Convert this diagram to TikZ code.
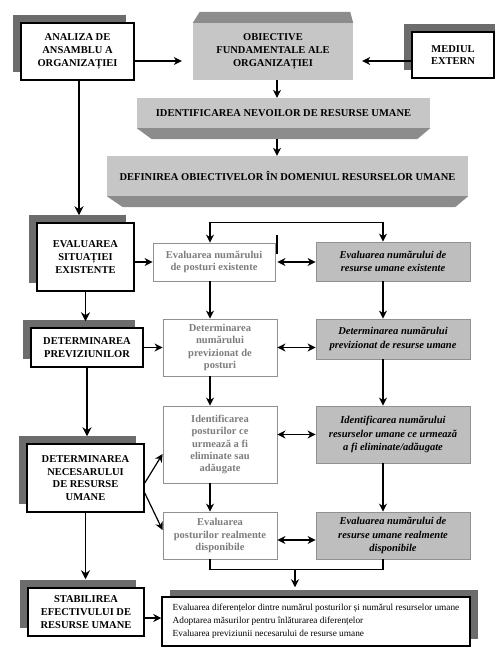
\documentclass[tikz,border=0pt]{standalone}
\usepackage{fontspec}
\setmainfont{Liberation Serif}
\usetikzlibrary{arrows.meta,shadows,calc}
\definecolor{shd}{RGB}{108,108,108}
\definecolor{facec}{RGB}{198,198,198}
\definecolor{darkf}{RGB}{140,140,140}
\definecolor{resf}{RGB}{190,190,190}
\definecolor{midtxt}{RGB}{125,125,125}
\definecolor{midbd}{RGB}{145,145,145}
\tikzset{
 base/.style={align=center, inner sep=0pt},
 lbox/.style={base, draw, line width=1.5pt, fill=white, font=\fontsize{10.5}{12.8}\selectfont\bfseries,
   drop shadow={shadow xshift=-8pt,shadow yshift=8pt,fill=shd,opacity=1}},
 mbox/.style={base, draw=midbd, line width=0.9pt, fill=white, text=midtxt, font=\fontsize{10.5}{12.2}\selectfont\bfseries},
 rbox/.style={base, draw=midbd, line width=0.9pt, fill=resf, font=\fontsize{10.5}{13.2}\selectfont\bfseries\itshape},
 facebox/.style={base, fill=facec, font=\fontsize{10.5}{12.8}\selectfont\bfseries},
 arr/.style={-{Stealth[length=8pt,width=8pt]}, line width=1.2pt},
 larr/.style={-{Stealth[length=9pt,width=9pt]}, line width=1.6pt},
 darr/.style={{Stealth[length=8pt,width=8pt]}-{Stealth[length=8pt,width=8pt]}, line width=1.2pt},
}
\begin{document}
\begin{tikzpicture}[x=1pt,y=-1pt]
\useasboundingbox (0,0) rectangle (495,653);
\coordinate (cm) at (210,0);
\coordinate (cr) at (383,0);
% top row
\node[lbox, minimum width=113pt, minimum height=57pt] (analiza) at (77.5,51.5) {ANALIZA DE\\ANSAMBLU A\\ORGANIZAȚIEI};
\node[facebox, minimum width=160pt, minimum height=57pt] (obj) at (273,51.5) {OBIECTIVE\\FUNDAMENTALE ALE\\ORGANIZAȚIEI};
\fill[darkf] (obj.north west) -- ++(7,-11) -- ($(obj.north east)+(-3,-11)$) -- (obj.north east) -- cycle;
\node[lbox, minimum width=82pt, minimum height=46pt,
  drop shadow={shadow xshift=8pt,shadow yshift=8pt,fill=shd,opacity=1}] (mediul) at (453,55) {MEDIUL\\EXTERN};
% bars
\node[facebox, minimum width=293pt, minimum height=30pt] (ident) at (283.5,113) {IDENTIFICAREA NEVOILOR DE RESURSE UMANE};
\fill[darkf] (ident.south west) -- (ident.south east) -- ++(-13,11) -- ($(ident.south west)+(15,11)$) -- cycle;
\node[facebox, minimum width=361pt, minimum height=40pt] (defin) at (287.5,176) {DEFINIREA OBIECTIVELOR ÎN DOMENIUL RESURSELOR UMANE};
\fill[darkf] (defin.south west) -- (defin.south east) -- ++(-13,11) -- ($(defin.south west)+(16,11)$) -- cycle;
% left column
\node[lbox, minimum width=97pt, minimum height=68pt] (evalsit) at (85.5,257) {EVALUAREA\\SITUAȚIEI\\EXISTENTE};
\node[lbox, minimum width=112pt, minimum height=39pt] (detprev) at (87,347.5) {DETERMINAREA\\PREVIZIUNILOR};
\node[lbox, minimum width=117pt, minimum height=68pt] (detnec) at (85.5,478) {DETERMINAREA\\NECESARULUI\\DE RESURSE\\UMANE};
\node[lbox, minimum width=116pt, minimum height=48pt] (stab) at (86,612) {STABILIREA\\EFECTIVULUI DE\\RESURSE UMANE};
% middle column
\node[mbox, minimum width=122pt, minimum height=38pt] (posturi) at (214,262) {Evaluarea numărului\\de posturi existente};
\node[mbox, minimum width=114pt, minimum height=57pt] (mid2) at (220,347.5) {Determinarea\\numărului\\previzionat de\\posturi};
\node[mbox, minimum width=114pt, minimum height=77pt] (mid3) at (220,444.5) {Identificarea\\posturilor ce\\urmează a fi\\eliminate sau\\adăugate};
\node[mbox, minimum width=114pt, minimum height=47pt] (mid4) at (220,535.5) {Evaluarea\\posturilor realmente\\disponibile};
% right column
\node[rbox, minimum width=154pt, minimum height=39pt] (res1) at (393,261.5) {Evaluarea numărului de\\resurse umane existente};
\node[rbox, minimum width=154pt, minimum height=40pt] (res2) at (393,339) {Determinarea numărului\\previzionat de resurse umane};
\node[rbox, minimum width=154pt, minimum height=57pt] (res3) at (393,434.5) {Identificarea numărului\\resurselor umane ce urmează\\a fi eliminate/adăugate};
\node[rbox, minimum width=154pt, minimum height=47pt] (res4) at (393,535.5) {Evaluarea numărului de\\resurse umane realmente\\disponibile};
% bottom box
\node[base, draw, line width=1.5pt, fill=white, align=left, font=\fontsize{9.3}{12.8}\selectfont,
  minimum width=308pt, minimum height=49pt,
  drop shadow={shadow xshift=8pt,shadow yshift=7pt,fill=shd,opacity=1}] (bottom) at (316,621.5)
  {Evaluarea diferențelor dintre numărul posturilor și numărul resurselor umane\\Adoptarea măsurilor pentru înlăturarea diferențelor\\Evaluarea previziunii necesarului de resurse umane};
% connectors top
\coordinate (a1) at ($(analiza.east)+(0,9.5)$);
\draw[arr, shorten >=11pt] (a1) -- (a1 -| obj.west);
\coordinate (a2) at ($(mediul.west)+(0,6)$);
\draw[arr, shorten >=9pt] (a2) -- (a2 -| obj.east);
\coordinate (c1) at ($(obj.south)+(4,0)$);
\draw[arr] (c1) -- (c1 |- ident.north);
\coordinate (identb) at ($(ident.south)+(-6.5,11)$);
\draw[arr] (identb) -- (identb |- defin.north);
\draw[darr] (cm |- posturi.north) -- ++(0,-20) -| (cr |- res1.north);
\coordinate (tk1) at (277,235);
\coordinate (tk2) at (277,254);
\draw[line width=1.2pt] (tk1) -- (tk2);
% left column connectors
\coordinate (l1) at ($(analiza.south)+(1.5,0)$);
\draw[larr, shorten >=7pt] (l1) -- (l1 |- evalsit.north);
\draw[larr, shorten >=6pt] (evalsit.south) -- (evalsit.south |- detprev.north);
\draw[larr, shorten >=7pt] (detprev.south) -- (detprev.south |- detnec.north);
\draw[larr, shorten >=8pt] (detnec.south) -- (detnec.south |- stab.north);
% horizontal from left
\draw[arr] (evalsit.east |- posturi.west) -- (posturi.west);
\draw[arr] (detprev.east) -- (detprev.east -| mid2.west);
\draw[arr] ($(detnec.east)+(0,5)$) -- ($(mid3.west)+(0,9.5)$);
\draw[arr] ($(detnec.east)+(0,15)$) -- ($(mid4.west)+(0,-5.5)$);
\coordinate (s1) at ($(stab.east)+(0,6)$);
\draw[arr] (s1) -- (s1 -| bottom.west);
% double arrows
\draw[darr, shorten <=2pt] (posturi.east) -- (posturi.east -| res1.west);
\draw[darr] (mid2.east) -- (mid2.east -| res2.west);
\draw[darr] (res3.west -| mid3.east) -- (res3.west);
\coordinate (d4) at ($(mid4.east)+(0,4.5)$);
\draw[darr] (d4) -- (d4 -| res4.west);
% verticals
\draw[arr] (cm |- posturi.south) -- (cm |- mid2.north);
\draw[arr] (cm |- mid2.south) -- (cm |- mid3.north);
\draw[arr] (cm |- mid3.south) -- (cm |- mid4.north);
\draw[arr] (cr |- res1.south) -- (cr |- res2.north);
\draw[arr] (cr |- res2.south) -- (cr |- res3.north);
\draw[arr] (cr |- res3.south) -- (cr |- res4.north);
% merge
\draw[line width=1.2pt] (cm |- mid4.south) -- ++(0,10) -| (cr |- res4.south);
\coordinate (mg) at (295,569);
\draw[arr, shorten >=9pt] (mg) -- (mg |- bottom.north);
\end{tikzpicture}
\end{document}
